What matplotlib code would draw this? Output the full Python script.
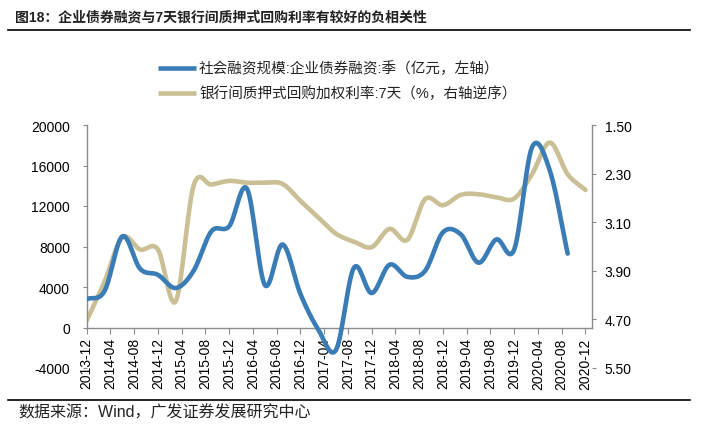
import numpy as np
import pandas as pd
import matplotlib
matplotlib.use("Agg")
import matplotlib.pyplot as plt
from matplotlib.lines import Line2D

plt.rcParams['font.family'] = ['Liberation Sans', 'Noto Sans CJK SC']

# quarterly observations, 2013-12 .. 2020-12
quarters = pd.date_range("2013-12-01", "2020-12-01", freq="3MS")
# 企业债券融资 (亿元), 2013-12 .. 2020-09
bond_fin = [2800, 3600, 9000, 5800, 5200, 3900, 5600, 9500, 10000, 13700,
            4200, 8200, 3300, -200, -2200, 5900, 3400, 6200, 5000, 5600,
            9400, 9200, 6400, 8700, 7700, 17800, 15500, 7300]
# 银行间质押式回购加权利率:7天 (%), 2013-12 .. 2020-12
repo_7d = [4.72, 4.08, 3.35, 3.55, 3.55, 4.40, 2.50, 2.48, 2.42, 2.45,
           2.45, 2.47, 2.75, 3.02, 3.29, 3.42, 3.51, 3.21, 3.39, 2.72,
           2.82, 2.65, 2.64, 2.69, 2.71, 2.31, 1.79, 2.31, 2.57]

tick_dates = pd.date_range("2013-12-01", "2020-12-01", freq="4MS")
left_ticks = [-4000, 0, 4000, 8000, 12000, 16000, 20000]
right_ticks = [1.50, 2.30, 3.10, 3.90, 4.70, 5.50]

label_bond = "社会融资规模:企业债券融资:季（亿元，左轴）"
label_repo = "银行间质押式回购加权利率:7天（%，右轴逆序）"

BLUE = "#3a7cb6"
TAN = "#cbbf96"
GRAY = "#8c8c8c"


def month_idx(d):
    return (d.year - 2013) * 12 + d.month - 12


def smooth(x, y, n=16):
    # catmull-rom curve through the points, like excel's smoothed line
    x = np.asarray(x, float)
    y = np.asarray(y, float)
    px = np.concatenate([[2 * x[0] - x[1]], x, [2 * x[-1] - x[-2]]])
    py = np.concatenate([[2 * y[0] - y[1]], y, [2 * y[-1] - y[-2]]])
    t = np.linspace(0, 1, n, endpoint=False)
    xs, ys = [], []
    for i in range(1, len(x)):
        for p, out in ((px, xs), (py, ys)):
            p0, p1, p2, p3 = p[i - 1], p[i], p[i + 1], p[i + 2]
            out.extend(0.5 * (2 * p1 + (p2 - p0) * t
                              + (2 * p0 - 5 * p1 + 4 * p2 - p3) * t ** 2
                              + (3 * p1 - p0 - 3 * p2 + p3) * t ** 3))
    xs.append(x[-1])
    ys.append(y[-1])
    return np.array(xs), np.array(ys)


mq = np.array([month_idx(d) for d in quarters])

fig = plt.figure(figsize=(7.2, 4.35), dpi=100)
ax = fig.add_axes([86.7 / 720, 1 - 369 / 435, (592 - 86.7) / 720, (369 - 126) / 435])
ax2 = ax.twinx()

# spine placement first: set_position resets the ticks
ax.spines['top'].set_visible(False)
for s in ax2.spines.values():
    s.set_visible(False)
ax.spines['bottom'].set_position(('data', 0))
ax.spines['left'].set_bounds(0, 20000)
ax.spines['right'].set_bounds(0, 20000)
for s in ['bottom', 'left', 'right']:
    ax.spines[s].set_color(GRAY)
    ax.spines[s].set_linewidth(1.0)

bx, by = smooth(mq[:len(bond_fin)], bond_fin)
rx, ry = smooth(mq[:len(repo_7d)], repo_7d)
ax2.plot(rx, ry, color=TAN, lw=3.3, solid_capstyle='round', zorder=2)
ax.plot(bx, by, color=BLUE, lw=3.3, solid_capstyle='round', zorder=3)
ax.set_zorder(ax2.get_zorder() + 1)
ax.patch.set_visible(False)

ax.set_xlim(0, 85.1)
ax.set_ylim(-4000, 20000)
ax2.set_ylim(5.5, 1.5)

ax.set_yticks(left_ticks)
ax.set_yticklabels([str(v) for v in left_ticks])
ax2.set_yticks(right_ticks)
ax2.set_yticklabels(["%.2f" % v for v in right_ticks])

ax.set_xticks([month_idx(d) for d in tick_dates])
ax.set_xticklabels([d.strftime("%Y-%m") for d in tick_dates])

ax.tick_params(axis='y', direction='out', length=3, color=GRAY, pad=9,
               labelsize=10)
ax.tick_params(axis='x', direction='out', length=4, color=GRAY, pad=3,
               labelsize=10, labelrotation=90)
ax2.tick_params(axis='y', direction='out', length=3, color=GRAY, pad=6,
                labelsize=10)

# header / footer
fig.text(15 / 720, 1 - 18 / 435,
         "图18：企业债券融资与7天银行间质押式回购利率有较好的负相关性",
         fontsize=10, fontweight='bold', color='#222222', va='center')
fig.add_artist(Line2D([8 / 720, 690 / 720], [1 - 31 / 435] * 2, color='black', lw=1.2))
fig.add_artist(Line2D([8 / 720, 690 / 720], [1 - 401 / 435] * 2, color='black', lw=1.2))
fig.text(18 / 720, 1 - 413 / 435, "数据来源：Wind，广发证券发展研究中心",
         fontsize=11.5, color='#222222', va='center')

# legend
for yy, col, lab in ((69, BLUE, label_bond), (94, TAN, label_repo)):
    fig.add_artist(Line2D([158 / 720, 196 / 720], [1 - yy / 435] * 2,
                          color=col, lw=3.3, solid_capstyle='butt'))
    fig.text(199 / 720, 1 - yy / 435, lab, fontsize=10.5, color='#222222',
             va='center')

fig.savefig("out.png", dpi=100)
